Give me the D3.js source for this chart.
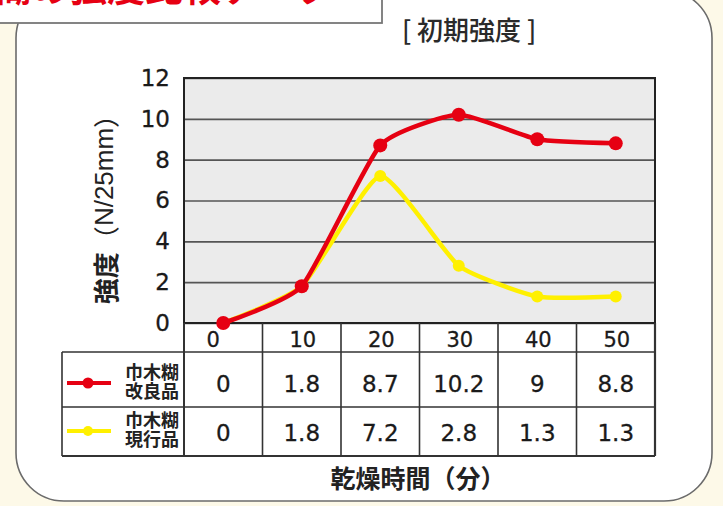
<!DOCTYPE html>
<html><head><meta charset="utf-8">
<script src="https://cdn.jsdelivr.net/npm/d3@7"></script>
<style>
html,body{margin:0;padding:0;background:#fdf9e8;}
svg{display:block;}
</style></head>
<body>
<svg id="c" width="723" height="506"></svg>
<script>
// ---- data ----
const categories = [0, 10, 20, 30, 40, 50];
const improved = [0, 1.8, 8.7, 10.2, 9, 8.8];
const current = [0, 1.8, 7.2, 2.8, 1.3, 1.3];
const yTicks = [0, 2, 4, 6, 8, 10, 12];
const improvedName = ["巾木糊", "改良品"];
const currentName = ["巾木糊", "現行品"];
const chartTitle = "[ 初期強度 ]";
const xTitle = "乾燥時間（分）";
const yTitleParts = ["強度", "（", "N/25mm", "）"];
const bannerText = "巾木糊の強度比較データ";

const svg = d3.select("#c");
const W = 723, H = 506;
const jp = "'Noto Sans CJK JP', sans-serif";
const num = "'DejaVu Sans', sans-serif";
const lat = "'Liberation Sans', Arial, sans-serif";

// background panel
svg.append("rect").attr("x", 0).attr("y", 0).attr("width", W).attr("height", H).attr("fill", "#fdf9e8");
svg.append("rect").attr("x", 16).attr("y", -10).attr("width", 696).attr("height", 511)
  .attr("rx", 48).attr("ry", 48).attr("fill", "#ffffff").attr("stroke", "#6b6b6b").attr("stroke-width", 1.6);

// banner box (cropped at the top of the picture)
svg.append("rect").attr("x", -4).attr("y", -10).attr("width", 386).attr("height", 33)
  .attr("fill", "#ffffff").attr("stroke", "#777").attr("stroke-width", 1.8);
svg.append("text").attr("x", 335).attr("y", 1).attr("text-anchor", "end")
  .attr("font-family", jp).attr("font-weight", "bold").attr("font-size", 38)
  .attr("fill", "#e60012").text(bannerText);

// scales
const plotL = 184, plotR = 655, plotT = 78, plotB = 323;
const x = d3.scaleBand().domain(categories).range([plotL, plotR]).padding(0);
const y = d3.scaleLinear().domain([0, 12]).range([plotB, plotT]);
const cx = d => x(d) + x.bandwidth() / 2;

// plot background
svg.append("rect").attr("x", plotL).attr("y", plotT).attr("width", plotR - plotL).attr("height", plotB - plotT)
  .attr("fill", "#ebebeb");

// grid via axis
const yAxis = d3.axisLeft(y).tickValues(yTicks).tickSize(-(plotR - plotL)).tickPadding(14).tickFormat(d3.format("d"));
const gy = svg.append("g").attr("transform", `translate(${plotL},0)`).call(yAxis);
gy.select(".domain").remove();
gy.selectAll(".tick line").attr("stroke", "#555").attr("stroke-width", 1.6);
gy.selectAll(".tick text").attr("font-family", num).attr("font-size", 23).attr("fill", "#1a1a1a")
  .attr("stroke", "#1a1a1a").attr("stroke-width", 0.3);

// plot border
svg.append("rect").attr("x", plotL).attr("y", plotT).attr("width", plotR - plotL).attr("height", plotB - plotT)
  .attr("fill", "none").attr("stroke", "#222").attr("stroke-width", 2);

// table
const tL = 62, r1 = 352, r2 = 407, r3 = 456;
const tg = svg.append("g").attr("stroke", "#333").attr("stroke-width", 1.6);
[r1, r2].forEach(yy => tg.append("line").attr("x1", tL).attr("x2", plotR).attr("y1", yy).attr("y2", yy));
tg.append("line").attr("x1", tL).attr("x2", plotR).attr("y1", r3).attr("y2", r3).attr("stroke-width", 2.2);
tg.append("line").attr("x1", tL).attr("x2", tL).attr("y1", r1).attr("y2", r3);
tg.append("line").attr("x1", plotR).attr("x2", plotR).attr("y1", plotB).attr("y2", r3).attr("stroke-width", 2.2);
tg.append("line").attr("x1", plotL).attr("x2", plotL).attr("y1", plotB).attr("y2", r3).attr("stroke-width", 2);
categories.slice(1).forEach(c => tg.append("line").attr("x1", x(c)).attr("x2", x(c)).attr("y1", plotB).attr("y2", r3));

// x labels row
svg.append("g").selectAll("text").data(categories).join("text")
  .attr("x", (d, i) => cx(d) + (i === 0 ? -10 : 1)).attr("y", (plotB + r1) / 2 + 2)
  .attr("text-anchor", "middle").attr("dominant-baseline", "central")
  .attr("font-family", num).attr("font-size", 21).attr("fill", "#1a1a1a")
  .attr("stroke", "#1a1a1a").attr("stroke-width", 0.3).text(d => d);

// value rows
function valueRow(vals, yc) {
  svg.append("g").selectAll("text").data(vals).join("text")
    .attr("x", (d, i) => cx(categories[i])).attr("y", yc)
    .attr("text-anchor", "middle").attr("dominant-baseline", "central")
    .attr("font-family", num).attr("font-size", 23).attr("fill", "#1a1a1a")
    .attr("stroke", "#1a1a1a").attr("stroke-width", 0.3).text(d => String(d));
}
valueRow(improved, (r1 + r2) / 2 + 4);
valueRow(current, (r2 + r3) / 2 + 1);

// legend cells
function legendCell(color, name, yc, rad) {
  svg.append("line").attr("x1", 67).attr("x2", 111).attr("y1", yc).attr("y2", yc)
    .attr("stroke", color).attr("stroke-width", 4);
  svg.append("circle").attr("cx", 88).attr("cy", yc).attr("r", rad).attr("fill", color);
  [0, 1].forEach(k => svg.append("text").attr("x", 179).attr("y", yc - 4 + k * 19)
    .attr("text-anchor", "end")
    .attr("font-family", jp).attr("font-weight", "bold").attr("font-size", 18).attr("fill", "#222")
    .text(name[k]));
}
legendCell("#e60012", improvedName, 383, 5.5);
legendCell("#fff000", currentName, 431, 5);

// lines
const line = d3.line().x((d, i) => cx(categories[i])).y(d => y(d)).curve(d3.curveCardinal.tension(0.5));
function series(vals, color, rad) {
  svg.append("path").datum(vals).attr("d", line).attr("fill", "none")
    .attr("stroke", color).attr("stroke-width", 4.5).attr("stroke-linejoin", "round");
  svg.append("g").selectAll("circle").data(vals).join("circle")
    .attr("cx", (d, i) => cx(categories[i])).attr("cy", d => y(d)).attr("r", rad).attr("fill", color);
}
series(current, "#fff000", 6);
series(improved, "#e60012", 7);

// titles
svg.append("text").attr("x", 402).attr("y", 28).attr("dominant-baseline", "central")
  .attr("font-family", jp).attr("font-weight", 500).attr("font-size", 26).attr("fill", "#2a2a2a").text(chartTitle);

svg.append("text").attr("x", 418).attr("y", 477).attr("text-anchor", "middle").attr("dominant-baseline", "central")
  .attr("font-family", jp).attr("font-weight", "bold").attr("font-size", 25).attr("fill", "#222").text(xTitle);

const yt = svg.append("text").attr("transform", "translate(104,203) rotate(-90)")
  .attr("text-anchor", "middle").attr("dominant-baseline", "central")
  .attr("font-family", jp).attr("font-size", 26).attr("fill", "#222");
yt.append("tspan").attr("font-weight", "bold").text(yTitleParts[0]);
yt.append("tspan").text(yTitleParts[1]);
yt.append("tspan").attr("font-family", lat).text(yTitleParts[2]);
yt.append("tspan").text(yTitleParts[3]);
</script>
</body></html>
